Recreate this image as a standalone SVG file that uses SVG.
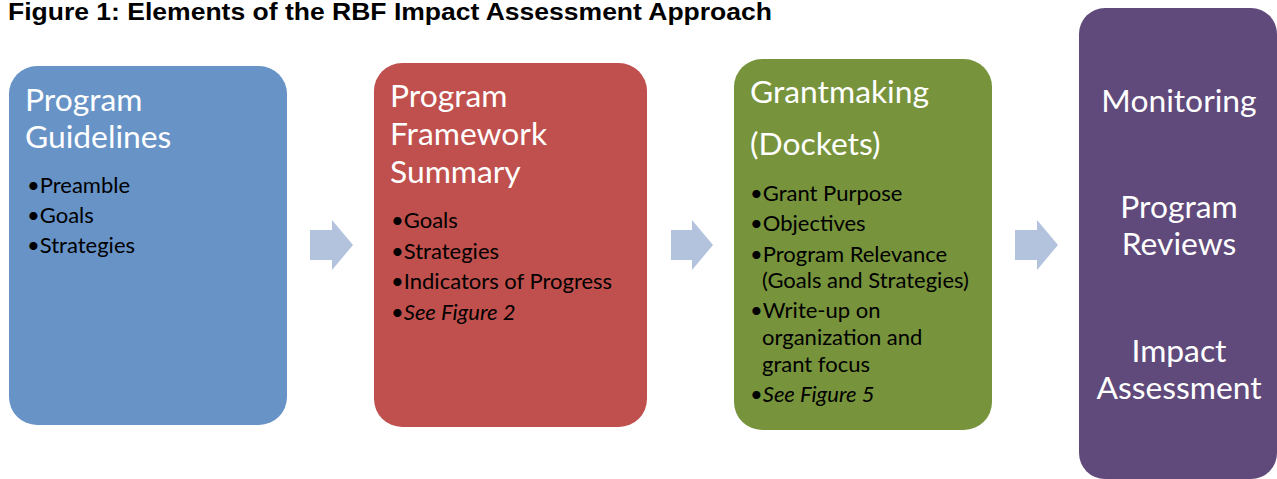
<svg xmlns="http://www.w3.org/2000/svg" width="1277" height="479" viewBox="0 0 1277 479">
<style>
.title{font-family:"Liberation Sans",Arial,sans-serif;font-weight:bold;font-size:23px;fill:#000}
.hd{font-family:Lato,"Open Sans",sans-serif;font-size:31.8px;fill:#fff}
.bl{font-family:Lato,"Open Sans",sans-serif;font-size:22px;fill:#000}
.it{font-style:italic}
.ctr{text-anchor:middle}
.arrow{fill:#B3C3DE}
</style>
<rect width="1277" height="479" fill="#fff"/>
<text class="title" x="8" y="20" textLength="764" lengthAdjust="spacingAndGlyphs">Figure 1: Elements of the RBF Impact Assessment Approach</text>
<g id="guidelines">
<rect x="9" y="66" width="278" height="359" rx="28" fill="#6793C7"/>
<text class="hd" x="25" y="111">Program</text>
<text class="hd" x="25" y="148">Guidelines</text>
<text class="bl" x="27" y="193">•Preamble</text>
<text class="bl" x="27" y="223">•Goals</text>
<text class="bl" x="27" y="253">•Strategies</text>
</g>
<g id="framework">
<rect x="374" y="63" width="273" height="364" rx="28" fill="#C0504D"/>
<text class="hd" x="390" y="107">Program</text>
<text class="hd" x="390" y="145">Framework</text>
<text class="hd" x="390" y="183">Summary</text>
<text class="bl" x="391" y="228">•Goals</text>
<text class="bl" x="391" y="259">•Strategies</text>
<text class="bl" x="391" y="289">•Indicators of Progress</text>
<text class="bl" x="391" y="320">•<tspan class="it">See Figure 2</tspan></text>
</g>
<g id="grantmaking">
<rect x="734" y="59" width="258" height="371" rx="28" fill="#77933C"/>
<text class="hd" x="750" y="103">Grantmaking</text>
<text class="hd" x="750" y="155">(Dockets)</text>
<text class="bl" x="750" y="201">•Grant Purpose</text>
<text class="bl" x="750" y="231">•Objectives</text>
<text class="bl" x="750" y="262">•Program Relevance</text>
<text class="bl" x="762" y="288">(Goals and Strategies)</text>
<text class="bl" x="750" y="318">•Write-up on</text>
<text class="bl" x="762" y="345">organization and</text>
<text class="bl" x="762" y="372">grant focus</text>
<text class="bl" x="750" y="402">•<tspan class="it">See Figure 5</tspan></text>
</g>
<g id="outcomes">
<rect x="1079" y="8" width="198" height="471" rx="26" fill="#604A7B"/>
<text class="hd ctr" x="1179" y="112">Monitoring</text>
<text class="hd ctr" x="1179" y="218">Program</text>
<text class="hd ctr" x="1179" y="255">Reviews</text>
<text class="hd ctr" x="1179" y="362">Impact</text>
<text class="hd ctr" x="1179" y="399">Assessment</text>
</g>
<g id="connectors">
<path class="arrow" d="M310 230H332V220L353 245L332 270V260H310Z"/>
<path class="arrow" d="M671 230H692V220L713 245L692 270V260H671Z"/>
<path class="arrow" d="M1015 230H1037V220L1058 245L1037 270V260H1015Z"/>
</g>
</svg>
